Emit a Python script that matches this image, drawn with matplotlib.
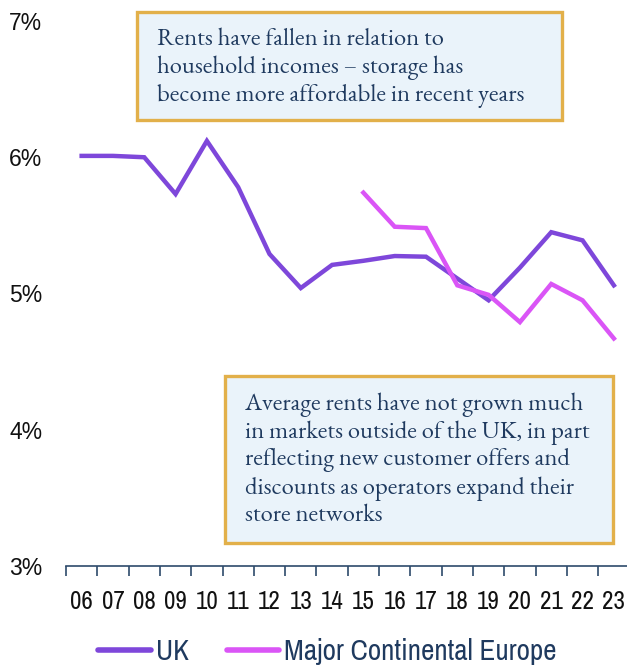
import matplotlib.pyplot as plt
from matplotlib.patches import Rectangle

# Rent as a share of household income, by year
years = ['06', '07', '08', '09', '10', '11', '12', '13', '14', '15',
         '16', '17', '18', '19', '20', '21', '22', '23']
uk = [6.01, 6.01, 6.00, 5.73, 6.12, 5.78, 5.29, 5.04, 5.21, 5.24,
      5.275, 5.27, 5.11, 4.95, 5.19, 5.45, 5.39, 5.06]
europe_years = ['15', '16', '17', '18', '19', '20', '21', '22', '23']
europe = [5.74, 5.49, 5.48, 5.06, 4.99, 4.79, 5.07, 4.95, 4.67]
y_ticks = [3, 4, 5, 6, 7]

note_top = ("Rents have fallen in relation to\n"
            "household incomes \u2013 storage has\n"
            "become more affordable in recent years")
note_bottom = ("Average rents have not grown much\n"
               "in markets outside of the UK, in part\n"
               "reflecting new customer offers and\n"
               "discounts as operators expand their\n"
               "store networks")

uk_color = '#7E47DA'
eu_color = '#DA55F6'
navy = '#1F3A5F'
axis_color = '#2E4A6B'
box_edge = '#E2B04A'
box_fill = '#EAF3FA'
narrow = 'Archivo Narrow'

W, H = 627, 668
fig = plt.figure(figsize=(W / 100, H / 100), dpi=100)
ax = fig.add_axes([66 / W, 1 - 566 / H, 1 - 66 / W, (566 - 21) / H])

x_uk = list(range(len(years)))
x_eu = [years.index(y) for y in europe_years]
ax.plot(x_uk, uk, color=uk_color, lw=3.2, solid_joinstyle='miter', label='UK')
ax.plot(x_eu, europe, color=eu_color, lw=3.2, solid_joinstyle='miter',
        label='Major Continental Europe')

ax.set_xlim(-0.5, 17.42)
ax.set_ylim(3, 7)

# category axis: ticks sit between years, labels centred on them
ax.set_xticks([i - 0.5 for i in range(len(years))])
ax.set_xticklabels([])
ax.set_xticks(x_uk, minor=True)
ax.set_xticklabels(years, minor=True, fontfamily=narrow,
                   fontsize=18, color='#111111')
ax.tick_params(axis='x', which='major', direction='out', length=7,
               width=1.2, color=axis_color)
ax.tick_params(axis='x', which='minor', length=0, pad=17)

ax.set_yticks(y_ticks)
ax.set_yticklabels([f'{v}%' for v in y_ticks], fontfamily='Liberation Sans',
                   fontsize=16.5, color='#111111')
ax.tick_params(axis='y', length=0, pad=17)

for side in ['top', 'right', 'left']:
    ax.spines[side].set_visible(False)
ax.spines['bottom'].set_color(axis_color)
ax.spines['bottom'].set_linewidth(1.2)

# annotation boxes
def note(x0, y0, x1, y1, text, tx, ty):
    fig.patches.append(Rectangle((x0 / W, 1 - y1 / H), (x1 - x0) / W,
                                 (y1 - y0) / H, transform=fig.transFigure,
                                 facecolor=box_fill, edgecolor=box_edge,
                                 lw=2.4, zorder=5))
    fig.text(tx / W, 1 - ty / H, text, ha='left', va='top',
             fontfamily='EB Garamond', fontsize=17.7, color=navy,
             linespacing=1.21, zorder=6)

note(137, 12, 562, 120, note_top, 157, 28)
note(225, 376, 613, 543, note_bottom, 245, 392)

leg = fig.legend(loc='lower center', bbox_to_anchor=(0.522, -0.035), ncol=2,
                 frameon=False, handlelength=1.8, handletextpad=0.17,
                 columnspacing=1.3, prop={'family': narrow, 'size': 21})
for t in leg.get_texts():
    t.set_color(navy)
for line in leg.get_lines():
    line.set_linewidth(4)
    line.set_solid_capstyle('round')

fig.savefig('out.png', dpi=100)
plt.close(fig)
